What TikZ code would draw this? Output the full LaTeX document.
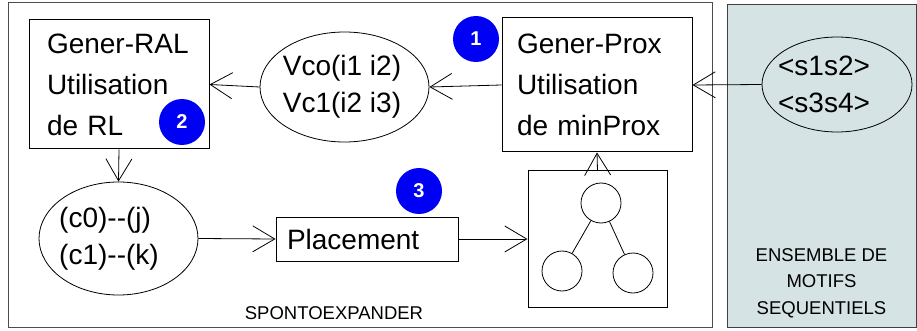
\documentclass[tikz,border=0pt]{standalone}
\usepackage{fontspec}
\setmainfont{Liberation Sans}
\usetikzlibrary{arrows.meta,shapes.geometric}
\definecolor{badgeblue}{RGB}{0,0,245}
\definecolor{setfill}{RGB}{214,227,228}

\begin{document}
\begin{tikzpicture}[x=1pt,y=-1pt,
    box/.style={draw, line width=1pt, align=left, font=\fontsize{28}{41}\selectfont},
    oval/.style={draw, ellipse, line width=0.8pt, inner sep=0pt, align=left, font=\fontsize{28}{37}\selectfont},
    badge/.style={circle, fill=badgeblue, text=white, minimum size=46pt, inner sep=0pt, font=\fontsize{20}{20}\bfseries\selectfont},
    leaf/.style={circle, draw, minimum size=40pt, inner sep=0pt, line width=0.8pt},
    link/.style={line width=0.8pt, -{Straight Barb[length=22pt,width=26pt]}},
    small/.style={font=\fontsize{18.5}{26.5}\selectfont, align=center}]
    \useasboundingbox (0,0) rectangle (917,331);

    % Panels
    \draw[black!75, line width=1pt, fill=setfill] (727,5) rectangle (916,327);
    \draw[black!70, line width=1pt] (8,3) rectangle (712,327);

    % Boxes and ovals
    \node (ral) [box, text width=144pt, inner xsep=18pt, minimum height=129pt] at (119,84.5) {Gener-RAL\\Utilisation\\de RL};
    \node (prox) [box, text width=160pt, inner xsep=15pt, minimum height=134pt] at (597,85) {Gener-Prox\\Utilisation\\de minProx};
    \node (vco) [oval, minimum width=169pt, minimum height=110pt] at (344.5,87) {\hspace*{-5pt}Vco(i1 i2)\\\hspace*{-5pt}Vc1(i2 i3)};
    \node (seq) [oval, inner ysep=-2pt, minimum width=150pt, minimum height=95pt] at (837,84.5) {\hspace*{-26pt}<s1s2>\\\hspace*{-26pt}<s3s4>};
    \node (cpl) [oval, minimum width=159pt, minimum height=113pt] at (118.5,238.5) {\hspace*{-19pt}(c0)-\kern0pt-(j)\\\hspace*{-19pt}(c1)-\kern0pt-(k)};
    \node (place) [box, text width=160pt, inner xsep=11pt, minimum height=44pt, font=\fontsize{28}{34}\selectfont] at (367,239) {Placement};

    % Tree
    \node (tree) [draw, line width=1pt, minimum width=139pt, minimum height=136pt] at (597.5,239) {};
    \node (top) [leaf] at (601,203) {};
    \node (left) [leaf] at (562,271) {};
    \node (right) [leaf] at (633,273) {};
    \draw[line width=0.8pt] (top) -- (left);
    \draw[line width=0.8pt] (top) -- (right);

    % Connectors
    \draw[link] (seq.west) -- (prox.east);
    \draw[link] (prox.west) -- (vco.east);
    \draw[link] (vco.west) -- (ral.east);
    \draw[link] (ral.south) -- (cpl.north);
    \draw[link] (cpl.east) -- (place.west);
    \draw[link] (place.east) -- (tree.west);
    \draw[link] (tree.north) -- (prox.south);

    % Steps
    \node (b1) [badge] at (476,39) {1};
    \node (b2) [badge] at (182,122) {2};
    \node (b3) [badge] at (419,191) {3};

    % Labels
    \node (spont) [font=\fontsize{18.5}{20}\selectfont] at (334,313) {SPONTOEXPANDER};
    \node (ens) [small] at (821.5,283) {ENSEMBLE DE\\MOTIFS\\SEQUENTIELS};
\end{tikzpicture}
\end{document}
